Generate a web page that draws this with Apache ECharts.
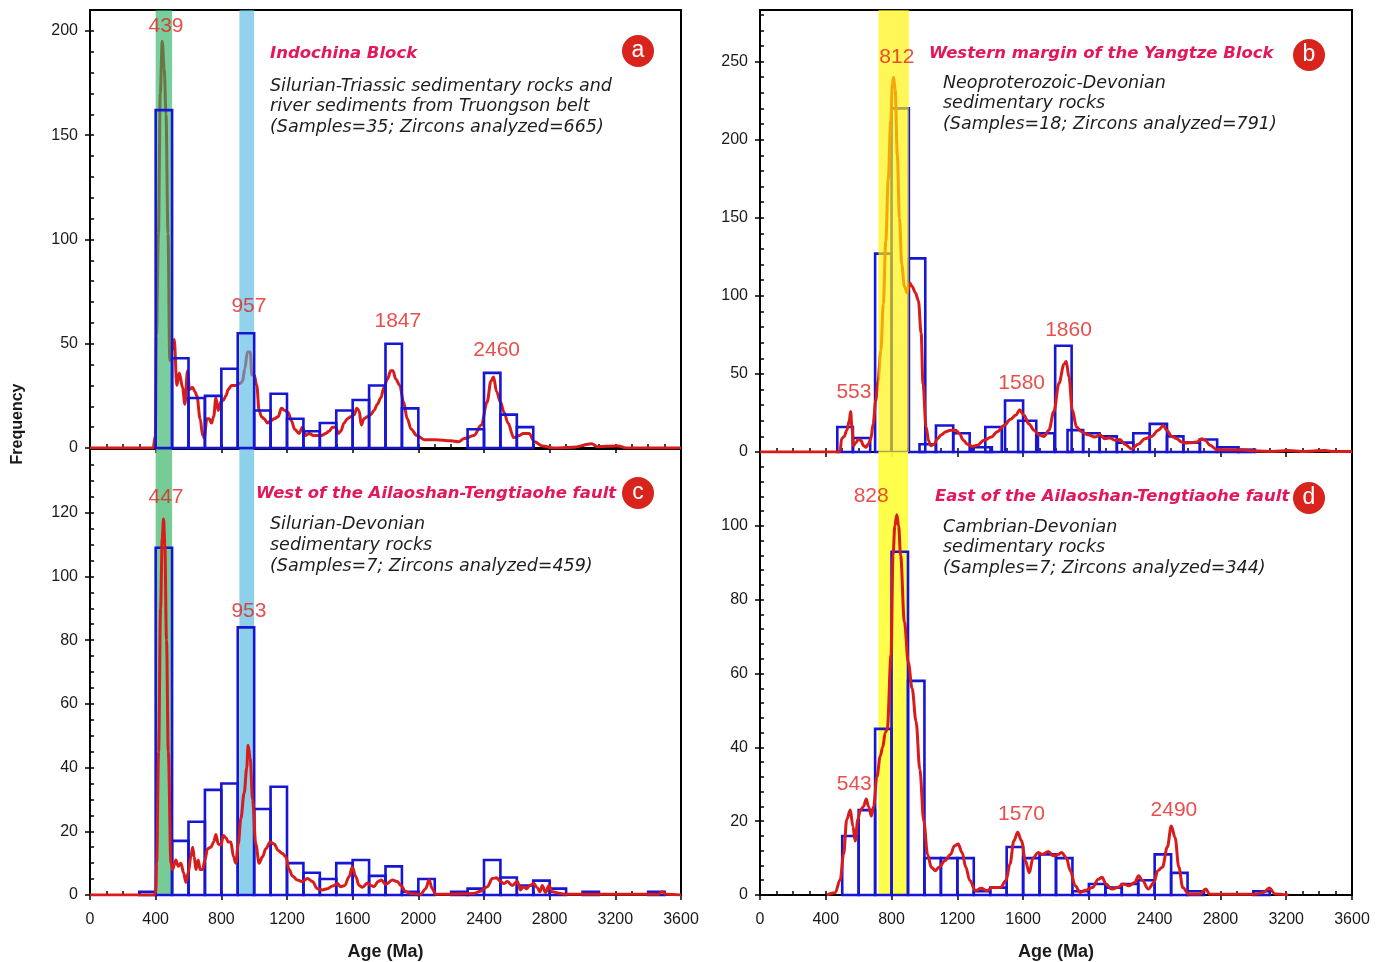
<!DOCTYPE html>
<html>
<head>
<meta charset="utf-8">
<script src="https://cdn.jsdelivr.net/npm/echarts@6/dist/echarts.min.js"></script>
<style>html,body{margin:0;padding:0;background:#fff;}#c{width:1389px;height:962px;}</style>
</head>
<body>
<div id="c"></div>
<script>
// ---------- DATA ----------
// histogram bins: [start Ma, end Ma, count]
const binsA = [[400,500,162],[500,600,43],[600,700,24],[700,800,25],[800,900,38],[900,1000,55],[1000,1100,18],[1100,1200,26],[1200,1300,14],[1300,1400,8],[1400,1500,12],[1500,1600,18],[1600,1700,23],[1700,1800,30],[1800,1900,50],[1900,2000,19],[2300,2400,9],[2400,2500,36],[2500,2600,16],[2600,2700,10]];
const binsB = [[470,565,16],[565,670,9],[700,800,127],[800,905,220],[905,1005,124],[970,1070,5],[1070,1175,17],[1175,1275,12],[1290,1410,3],[1370,1470,16],[1490,1600,33],[1570,1680,20],[1690,1790,12],[1795,1895,68],[1870,1965,14],[1965,2065,12],[2065,2170,10],[2170,2270,6],[2270,2370,12],[2370,2475,18],[2475,2575,10],[2575,2675,6],[2675,2780,8],[2780,2910,3],[2910,3010,1.5]];
const binsC = [[300,400,1],[400,500,109],[500,600,17],[600,700,23],[700,800,33],[800,900,35],[900,1000,84],[1000,1100,27],[1100,1200,34],[1200,1300,10],[1300,1400,7],[1400,1500,5],[1500,1600,10],[1600,1700,11],[1700,1800,6],[1800,1900,9],[1900,2000,1],[2000,2100,5],[2200,2300,1],[2300,2400,2],[2400,2500,11],[2500,2600,5.5],[2600,2700,3],[2700,2800,4.5],[2800,2900,2],[3000,3100,1],[3400,3500,1]];
const binsD = [[500,600,16],[600,700,23],[700,800,45],[800,900,93],[900,1000,58],[1000,1100,10],[1100,1200,10],[1200,1300,10],[1300,1400,1],[1400,1500,2],[1500,1600,13],[1600,1700,10],[1700,1800,11],[1800,1900,10],[1900,2000,1],[2000,2100,3],[2100,2200,2],[2200,2300,3],[2300,2400,4],[2400,2500,11],[2500,2600,6],[2600,2700,1],[3000,3100,1]];

// probability density curves: [age Ma, value]
const curveA = [[0,0],[385,0],[398,6],[405,54],[417,103],[428,170],[440,195],[452,182],[463,160],[475,103],[486,42],[500,47],[513,52],[529,30],[544,36],[564,29],[578,21],[594,37],[606,28],[625,29],[639,27],[651,25],[671,14],[686,6],[696,5],[712,14],[726,14],[740,12],[753,15],[767,24],[781,18],[797,22],[813,23],[828,25],[842,28],[862,30],[888,30],[915,31],[929,32],[943,38],[959,46],[976,46],[986,35],[1000,35],[1016,30],[1030,18],[1045,15],[1061,14],[1081,12],[1101,13],[1122,14],[1146,15],[1166,19],[1187,18],[1207,17],[1227,13],[1247,9],[1274,7],[1294,10],[1314,6],[1335,7],[1361,6],[1385,6],[1410,6],[1436,7],[1456,8],[1477,10],[1497,10],[1513,7],[1527,8],[1548,12],[1568,14],[1588,15],[1609,16],[1625,19],[1639,18],[1653,11],[1669,14],[1690,15],[1710,16],[1730,18],[1751,21],[1771,24],[1791,29],[1811,33],[1832,37],[1845,37],[1863,33],[1887,30],[1910,22],[1933,14],[1956,9],[1991,6],[2037,4],[2106,4],[2199,3.5],[2245,3],[2280,4.5],[2338,6],[2384,11],[2419,22],[2442,32],[2458,34],[2477,27],[2500,22],[2523,17],[2546,12],[2581,5],[2616,6],[2639,7],[2674,7],[2708,3],[2755,1],[2824,0],[2940,0.3],[3056,2],[3090,0.6],[3218,1],[3264,0],[3600,0]];
const curveB = [[0,0],[482,0],[488,1],[496,8.5],[512,10],[528,14],[543,20],[551,26],[559,16],[569,4],[583,6],[597,8],[613,7.5],[630,4],[644,3],[658,5],[674,8.5],[688,18],[704,33],[717,45],[735,65],[750,95],[765,135],[780,175],[795,212],[805,236],[812,240],[822,232],[835,190],[848,150],[862,120],[878,106],[895,102],[912,108],[925,106],[945,102],[963,97],[980,76],[991,44],[1010,16],[1026,7],[1038,4],[1059,5],[1079,8.5],[1103,11],[1130,13],[1160,14],[1190,14],[1211,12],[1237,7.5],[1261,5],[1291,3.6],[1322,4.3],[1362,7.5],[1407,9.6],[1443,13],[1484,17],[1524,21],[1555,23.5],[1579,27],[1605,23.5],[1636,18],[1666,14],[1696,11],[1727,10],[1757,14],[1787,26],[1818,44],[1848,56],[1862,58],[1879,48],[1899,27],[1925,16],[1955,13],[1996,11],[2037,9.6],[2067,11],[2097,8.5],[2128,9],[2158,7.5],[2189,8],[2219,5],[2260,2],[2300,5],[2341,8.5],[2382,10],[2422,14],[2453,17],[2473,14],[2504,10],[2534,8.5],[2564,6.4],[2595,5.8],[2625,6],[2656,6.4],[2686,8.5],[2707,7.5],[2737,4.3],[2778,1.5],[2910,1.5],[2971,1],[3031,0.6],[3113,0.4],[3214,1],[3295,0.4],[3438,1],[3478,0.4],[3600,0.3]];
const curveC = [[0,0],[390,0],[401,1],[406,10],[418,45],[430,90],[440,112],[448,118],[456,110],[466,80],[477,45],[493,10],[503,8],[523,11],[538,9],[554,10],[570,7],[584,4],[598,7],[615,12],[625,15],[635,12],[645,8],[659,11],[671,8],[686,8],[700,11],[716,14.5],[736,15],[753,16.6],[767,19],[781,16],[797,15.6],[813,18.7],[828,18],[842,16.6],[858,16.6],[874,12],[888,10],[903,16],[919,24],[939,32],[955,40],[963,47],[976,43],[990,30],[1010,16],[1030,10],[1051,12],[1071,14.5],[1097,16.6],[1122,16],[1146,14],[1172,13],[1193,12],[1213,8],[1233,6],[1264,4.7],[1294,4.2],[1325,5.2],[1355,4.2],[1385,2],[1416,1.6],[1446,2],[1477,2.8],[1507,3.6],[1527,2.6],[1552,3],[1578,5.7],[1598,8.8],[1619,5.7],[1639,3],[1659,2.4],[1690,3.8],[1710,3],[1730,2.6],[1755,4.2],[1775,4.7],[1801,3.3],[1842,4.7],[1873,4.2],[1893,3],[1924,1],[1954,0.5],[2014,0.2],[2045,2],[2065,4.7],[2085,2],[2105,0.2],[2339,0.5],[2379,1.2],[2420,2.6],[2451,5.2],[2477,5.4],[2501,4.2],[2521,3.6],[2542,4.2],[2572,3],[2603,4.2],[2623,1.6],[2639,2.6],[2659,2],[2680,3],[2704,3.6],[2724,2.3],[2740,1],[2755,3],[2775,0.8],[2795,3],[2816,1],[2866,0.5],[2897,0.2],[3460,0.2],[3486,1],[3510,0.2],[3600,0]];
const curveD = [[406,0],[457,0.6],[488,4.2],[508,11],[528,20.5],[549,23],[565,18.6],[579,14.6],[595,20.5],[610,23],[630,24],[646,26],[660,24],[677,21.4],[691,24],[711,32],[731,37.6],[746,40],[762,44],[774,45],[797,65],[809,92],[820,100],[832,103],[843,100],[855,92],[878,74],[902,63],[925,56],[949,47],[972,34],[996,20],[1019,11],[1042,7.5],[1065,6.6],[1089,7.5],[1124,9.3],[1159,11],[1182,13.3],[1205,13.8],[1229,11.5],[1252,7.5],[1275,4],[1310,1.2],[1345,1.8],[1380,1.2],[1415,2],[1462,2],[1497,4],[1520,8.4],[1544,14.7],[1567,17],[1590,14.7],[1614,9.3],[1637,6],[1660,10],[1691,11.5],[1718,11],[1753,11.8],[1784,10.6],[1812,11],[1835,11.5],[1863,10],[1887,6.6],[1917,2.5],[1947,0.7],[1975,1.2],[2022,2],[2057,4.3],[2080,4.8],[2104,3],[2139,1.6],[2174,2],[2209,3],[2244,2.5],[2279,3.4],[2302,5.2],[2326,3.9],[2361,1.6],[2396,3.4],[2419,6.6],[2447,7.5],[2477,13],[2501,18.7],[2524,15.6],[2547,7.5],[2571,2],[2606,0.3],[2676,0.3],[2711,1.6],[2734,0.2],[3003,0.2],[3062,0.7],[3097,1.9],[3132,0.3],[3213,0]];

// highlighted age bands: [start Ma, end Ma]
const bandsA = [[400,500],[910,1000]];
const bandsB = [[720,905]];
const bandsC = [[400,500],[910,1000]];
const bandsD = [[720,900]];

// peak labels: [text, age Ma, frequency]
const peaksA = [['439',463,202],['957',968,68],['1847',1875,61],['2460',2477,47]];
const peaksB = [['812',832,253],['553',571,38],['1580',1591,44],['1860',1876,78]];
const peaksC = [['447',463,125],['953',968,89]];
const peaksD = [['828',676,108],['543',573,30],['1570',1590,22],['2490',2517,23]];

// axis ranges
const ageMax = 3600, ageStep = 400, ageMinor = 100;
const yMaxA = 210, yMaxB = 283, yMaxC = 140, yMaxD = 120;
const yStepA = 50, yStepB = 50, yStepC = 20, yStepD = 20;
const yMinorA = 10, yMinorB = 10, yMinorC = 5, yMinorD = 4;

// texts
const titleA = 'Indochina Block';
const descA = ['Silurian-Triassic sedimentary rocks and','river sediments from Truongson belt','(Samples=35; Zircons analyzed=665)'];
const titleB = 'Western margin of the Yangtze Block';
const descB = ['Neoproterozoic-Devonian','sedimentary rocks','(Samples=18; Zircons analyzed=791)'];
const titleC = 'West of the Ailaoshan-Tengtiaohe fault';
const descC = ['Silurian-Devonian','sedimentary rocks','(Samples=7; Zircons analyzed=459)'];
const titleD = 'East of the Ailaoshan-Tengtiaohe fault';
const descD = ['Cambrian-Devonian','sedimentary rocks','(Samples=7; Zircons analyzed=344)'];

// ---------- LAYOUT / STYLE ----------
const FONT = "'Liberation Sans', Arial, Helvetica, sans-serif";
const WFONT = "'DejaVu Sans', Verdana, sans-serif";
const GREEN = 'rgba(40,175,95,0.62)', SKY = 'rgba(80,182,225,0.62)';
const panels = [
  {grid:{left:90,top:10,width:591,height:438}, bins:binsA, curve:curveA, bands:bandsA, bandColors:[GREEN, SKY], peaks:peaksA, yMax:yMaxA, yStep:yStepA, yMinor:yMinorA, xLabels:false, z:{curve:2,band:3,bars:4},
   title:titleA, desc:descA, tx:270, ty:54, dx:270, dy:86, dl:20.5, badge:'a', bx:638, by:51},
  {grid:{left:760,top:10,width:592,height:442}, bins:binsB, curve:curveB, bands:bandsB, bandColors:['rgba(255,242,0,0.66)'], peaks:peaksB, yMax:yMaxB, yStep:yStepB, yMinor:yMinorB, xLabels:false, z:{bars:1,curve:2,band:3},
   title:titleB, desc:descB, tx:929, ty:54, dx:943, dy:83, dl:20.5, badge:'b', bx:1309, by:55},
  {grid:{left:90,top:449,width:591,height:449}, bins:binsC, curve:curveC, bands:bandsC, bandColors:['rgba(95,195,130,0.85)','rgba(120,200,230,0.85)'], peaks:peaksC, yMax:yMaxC, yStep:yStepC, yMinor:yMinorC, xLabels:true, z:{band:1,bars:2,curve:3},
   title:titleC, desc:descC, tx:256, ty:494, dx:270, dy:524, dl:21, badge:'c', bx:638, by:493},
  {grid:{left:760,top:452,width:592,height:444}, bins:binsD, curve:curveD, bands:bandsD, bandColors:['rgba(255,255,60,0.92)'], peaks:peaksD, yMax:yMaxD, yStep:yStepD, yMinor:yMinorD, xLabels:true, z:{band:1,bars:2,curve:3},
   title:titleD, desc:descD, tx:935, ty:497, dx:943, dy:527, dl:20.5, badge:'d', bx:1309, by:498}
];

const grids = [], xAxes = [], yAxes = [], series = [], graphics = [];
const labelStyle = {color:'#1a1a1a', fontSize:16, fontFamily:FONT, formatter:v => String(v)};

panels.forEach((p, g) => {
  grids.push(Object.assign({show:true, borderColor:'#000', borderWidth:2, backgroundColor:'transparent'}, p.grid));
  xAxes.push({type:'value', gridIndex:g, min:0, max:ageMax, interval:ageStep, position:'bottom',
    axisLine:{show:true, onZero:false, lineStyle:{color:'#000', width:2}},
    axisTick:{show:true, inside:false, length:5, lineStyle:{color:'#000', width:1.5}},
    axisLabel:Object.assign({show:p.xLabels, margin:17}, labelStyle),
    splitLine:{show:false},
    name:p.xLabels ? 'Age (Ma)' : '', nameLocation:'middle', nameGap:48,
    nameTextStyle:{fontSize:18, fontWeight:'bold', color:'#1a1a1a', fontFamily:FONT}});
  xAxes.push({type:'value', gridIndex:g, min:0, max:ageMax, interval:ageMinor, position:'bottom',
    axisLine:{show:false, onZero:false}, axisTick:{show:true, inside:true, length:4, lineStyle:{color:'#000', width:1.5}},
    axisLabel:{show:false}, splitLine:{show:false}});
  yAxes.push({type:'value', gridIndex:g, min:0, max:p.yMax, interval:p.yStep, position:'left',
    axisLine:{show:true, onZero:false, lineStyle:{color:'#000', width:2}},
    axisTick:{show:true, inside:false, length:5, lineStyle:{color:'#000', width:1.5}},
    axisLabel:Object.assign({show:true, margin:12, showMaxLabel:false}, labelStyle),
    splitLine:{show:false}});
  yAxes.push({type:'value', gridIndex:g, min:0, max:p.yMax, interval:p.yMinor, position:'left',
    axisLine:{show:false, onZero:false}, axisTick:{show:true, inside:true, length:4, lineStyle:{color:'#000', width:1.5}},
    axisLabel:{show:false}, splitLine:{show:false}});

  const xi = 2*g, yi = 2*g;
  series.push({type:'custom', xAxisIndex:xi, yAxisIndex:yi, z:p.z.band, silent:true,
    data:p.bands.map(b => [b[0], b[1], 0]), encode:{x:[0,1], y:2},
    renderItem:(params, api) => {
      const cs = params.coordSys;
      const x0 = api.coord([api.value(0), 0])[0], x1 = api.coord([api.value(1), 0])[0];
      return {type:'rect', shape:{x:x0, y:cs.y, width:x1-x0, height:cs.height},
        style:{fill:p.bandColors[params.dataIndex % p.bandColors.length]}};
    }});
  series.push({type:'custom', xAxisIndex:xi, yAxisIndex:yi, z:p.z.bars, silent:true,
    data:p.bins, encode:{x:[0,1], y:2},
    renderItem:(params, api) => {
      const a = api.coord([api.value(0), api.value(2)]);
      const b = api.coord([api.value(1), 0]);
      return {type:'rect', shape:{x:a[0], y:a[1], width:b[0]-a[0], height:b[1]-a[1]},
        style:{fill:'none', stroke:'#1616d4', lineWidth:2.6}};
    }});
  series.push({type:'line', xAxisIndex:xi, yAxisIndex:yi, z:p.z.curve, silent:true,
    data:p.curve, showSymbol:false, smooth:0.35, smoothMonotone:'x',
    lineStyle:{color:'#d81c1c', width:3}});
  series.push({type:'scatter', xAxisIndex:xi, yAxisIndex:yi, z:6, silent:true, symbolSize:1,
    itemStyle:{color:'rgba(0,0,0,0)'},
    data:p.peaks.map(k => ({name:k[0], value:[k[1], k[2]]})),
    label:{show:true, position:'inside', formatter:q => q.name, color:'#e2231f', fontSize:21, fontFamily:FONT}});

  graphics.push({type:'text', x:p.tx, y:p.ty, z:10, style:{text:p.title, fill:'#e3175a', font:'italic bold 16.5px ' + WFONT, verticalAlign:'middle', textVerticalAlign:'middle'}});
  p.desc.forEach((line, i) => {
    graphics.push({type:'text', x:p.dx, y:p.dy + i*p.dl, z:10, style:{text:line, fill:'#1e1e1e', font:'italic 17.5px ' + WFONT, verticalAlign:'middle', textVerticalAlign:'middle'}});
  });
  graphics.push({type:'circle', z:11, shape:{cx:p.bx, cy:p.by, r:16}, style:{fill:'#d8241c'}});
  graphics.push({type:'text', x:p.bx, y:p.by, z:12, style:{text:p.badge, fill:'#fff', font:'23px ' + FONT, align:'center', verticalAlign:'middle', textAlign:'center', textVerticalAlign:'middle'}});
});

graphics.push({type:'text', x:18, y:424, rotation:Math.PI/2, z:10,
  style:{text:'Frequency', fill:'#1a1a1a', font:'bold 16px ' + FONT, align:'center', verticalAlign:'middle', textAlign:'center', textVerticalAlign:'middle'}});

const chart = echarts.init(document.getElementById('c'), null, {renderer:'canvas'});
chart.setOption({
  animation:false,
  backgroundColor:'#fff',
  grid:grids, xAxis:xAxes, yAxis:yAxes, series:series, graphic:graphics
});
</script>
</body>
</html>
